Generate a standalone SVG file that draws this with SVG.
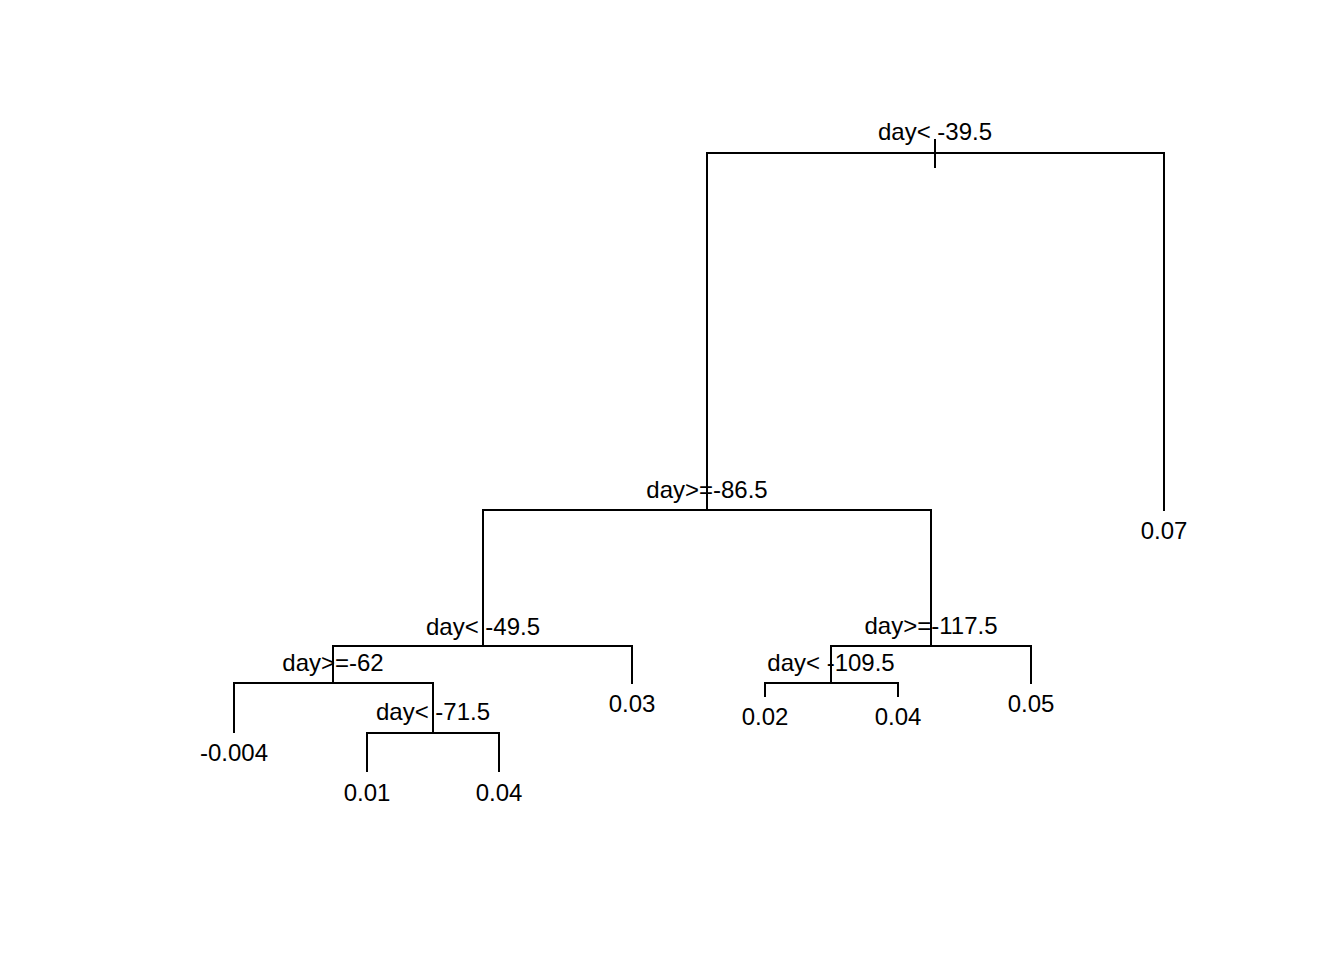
<svg xmlns="http://www.w3.org/2000/svg" width="1344" height="960" viewBox="0 0 1344 960">
<style>
text{font-family:"Liberation Sans",Arial,sans-serif;font-size:24px;fill:#000;text-anchor:middle}
.e{fill:none;stroke:#000;stroke-width:2}
</style>
<rect width="1344" height="960" fill="#fff"/>
<g id="connectors">
<path class="e" d="M707,510 V153 H1164 V511"/>
<path class="e" d="M935,139 V168"/>
<path class="e" d="M483,646 V510 H931 V646"/>
<path class="e" d="M333,683 V646 H632 V684"/>
<path class="e" d="M234,733 V683 H433 V733"/>
<path class="e" d="M367,772 V733 H499 V772"/>
<path class="e" d="M831,683 V646 H1031 V684"/>
<path class="e" d="M765,697 V683 H898 V697"/>
</g>
<g id="n1"><text x="935" y="140">day&lt; -39.5</text></g>
<g id="n2"><text x="707" y="498">day&gt;=-86.5</text></g>
<g id="n3"><text x="483" y="635">day&lt; -49.5</text></g>
<g id="n4"><text x="333" y="671">day&gt;=-62</text></g>
<g id="n5"><text x="433" y="720">day&lt; -71.5</text></g>
<g id="n6"><text x="931" y="634">day&gt;=-117.5</text></g>
<g id="n7"><text x="831" y="671">day&lt; -109.5</text></g>
<g id="leaf1"><text x="234" y="761">-0.004</text></g>
<g id="leaf2"><text x="367" y="801">0.01</text></g>
<g id="leaf3"><text x="499" y="801">0.04</text></g>
<g id="leaf4"><text x="632" y="712">0.03</text></g>
<g id="leaf5"><text x="765" y="725">0.02</text></g>
<g id="leaf6"><text x="898" y="725">0.04</text></g>
<g id="leaf7"><text x="1031" y="712">0.05</text></g>
<g id="leaf8"><text x="1164" y="539">0.07</text></g>
</svg>
